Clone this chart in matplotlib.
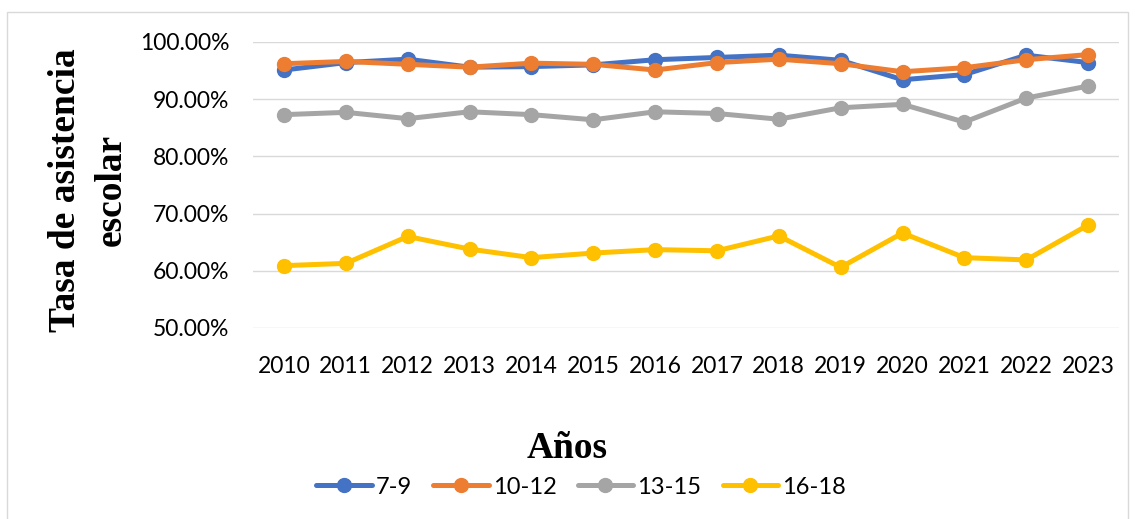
import matplotlib.pyplot as plt
from matplotlib.patches import Rectangle
from matplotlib.ticker import FuncFormatter

years = [2010, 2011, 2012, 2013, 2014, 2015, 2016, 2017, 2018, 2019, 2020, 2021, 2022, 2023]
g7_9 = [95.1, 96.4, 97.0, 95.6, 95.7, 96.0, 96.9, 97.3, 97.7, 96.8, 93.4, 94.3, 97.7, 96.4]
g10_12 = [96.2, 96.6, 96.1, 95.6, 96.3, 96.1, 95.1, 96.4, 97.0, 96.2, 94.8, 95.5, 96.9, 97.8]
g13_15 = [87.3, 87.7, 86.6, 87.8, 87.3, 86.4, 87.8, 87.5, 86.5, 88.5, 89.1, 86.0, 90.2, 92.3]
g16_18 = [60.9, 61.3, 66.0, 63.8, 62.3, 63.1, 63.7, 63.5, 66.1, 60.6, 66.6, 62.3, 61.9, 68.0]

labels = ["7-9", "10-12", "13-15", "16-18"]
colors = ["#4472C4", "#ED7D31", "#A5A5A5", "#FFC000"]

tick_font = "Lato"
serif = "Liberation Serif"

fig = plt.figure(figsize=(11.35, 5.19), dpi=100)
ax = fig.add_axes([253 / 1135, 1 - 328 / 519, (1119 - 253) / 1135, (328 - 42) / 519])

# outer chart border
fig.patches.append(Rectangle((7 / 1135, -0.01), (1128 - 7) / 1135, 1 - 12 / 519 + 0.01,
                             transform=fig.transFigure, fill=False,
                             edgecolor="#D9D9D9", linewidth=1))

x = list(range(len(years)))
for series, lab, c in zip([g7_9, g10_12, g13_15, g16_18], labels, colors):
    ax.plot(x, series, color=c, linewidth=3.6, marker="o", markersize=10,
            label=lab, solid_capstyle="round")

ax.set_xlim(-0.5, len(years) - 0.5)
ax.set_ylim(50, 100)
ax.set_yticks([50, 60, 70, 80, 90, 100])
ax.yaxis.set_major_formatter(FuncFormatter(lambda v, p: f"{v:.2f}%"))
ax.set_xticks(x)
ax.set_xticklabels([str(y) for y in years])
ax.grid(axis="y", color="#D9D9D9", linewidth=1)
ax.set_axisbelow(True)
for s in ax.spines.values():
    s.set_visible(False)
ax.tick_params(axis="both", length=0, labelsize=16.5, labelcolor="#000000")
ax.tick_params(axis="y", pad=17)
ax.tick_params(axis="x", pad=20)
for t in ax.get_xticklabels() + ax.get_yticklabels():
    t.set_fontfamily(tick_font)

fig.text(88 / 1135, 1 - 190 / 519, "Tasa de asistencia\nescolar", rotation=90,
         ha="center", va="center", multialignment="center",
         fontsize=27, fontweight="bold", family=serif, linespacing=1.4)
fig.text(567 / 1135, 1 - 449 / 519, "Años", ha="center", va="center",
         fontsize=27, fontweight="bold", family=serif)

fig.legend(loc="center", bbox_to_anchor=(581 / 1135, 1 - 487 / 519), ncol=4,
           frameon=False, handlelength=2.35, columnspacing=0.9, handletextpad=0.17,
           prop={"family": tick_font, "size": 17})

fig.savefig("out.png", dpi=100)
